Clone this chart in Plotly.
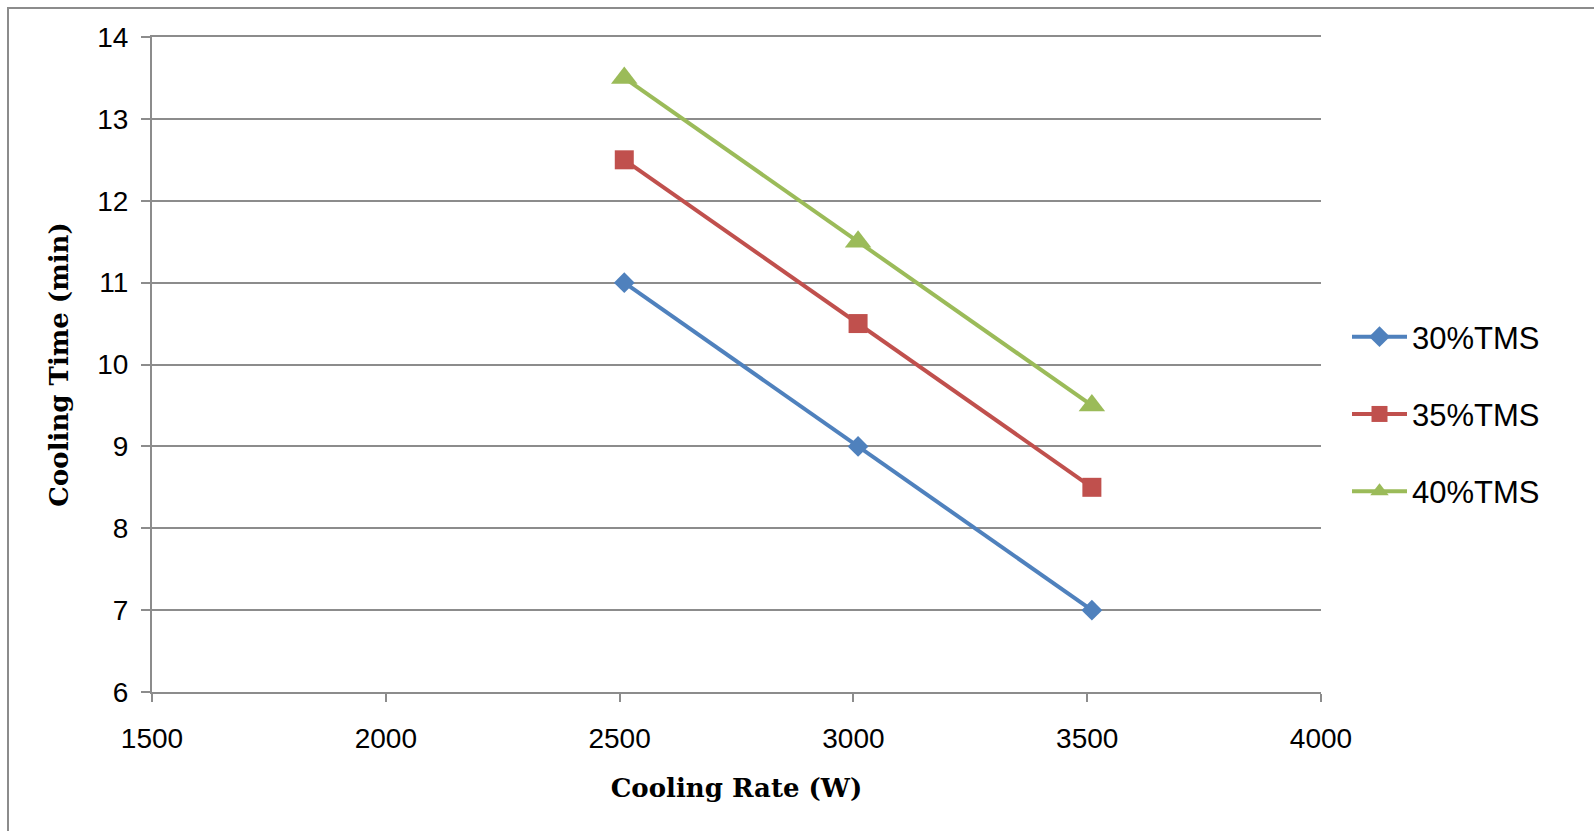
import plotly.graph_objects as go

cooling_rate = [2510, 3010, 3510]
series_names = ["30%TMS", "35%TMS", "40%TMS"]
tms30 = [11, 9, 7]
tms35 = [12.5, 10.5, 8.5]
tms40 = [13.5, 11.5, 9.5]
x_ticks = [1500, 2000, 2500, 3000, 3500, 4000]
y_ticks = [6, 7, 8, 9, 10, 11, 12, 13, 14]

W, H = 1594, 831
L, R, T, B = 152, 1321, 37, 692

colors = ["#4F81BD", "#C0504D", "#9BBB59"]
symbols = ["diamond", "square", "triangle-up"]
sizes = [16, 19, 23]
values = [tms30, tms35, tms40]

fig = go.Figure()
for i, (name, vals) in enumerate(zip(series_names, values)):
    fig.add_trace(go.Scatter(
        x=cooling_rate, y=vals, name=name, mode="lines+markers",
        line=dict(color=colors[i], width=4),
        marker=dict(symbol=symbols[i], size=sizes[i], color=colors[i]),
        legendgroup=name,
    ))

grid = "#8c8c8c"
fig.update_layout(
    width=W, height=H,
    margin=dict(l=L, r=W - R, t=T, b=H - B),
    paper_bgcolor="white", plot_bgcolor="white",
    font=dict(family="Liberation Sans, Arial", color="black"),
    showlegend=True,
    legend=dict(
        x=(1347 - L) / (R - L), xanchor="left",
        y=(B - 414) / (B - T), yanchor="middle",
        font=dict(size=31, family="Liberation Sans, Arial"),
        tracegroupgap=34, traceorder="grouped", itemwidth=55,
        bgcolor="rgba(0,0,0,0)",
    ),
    xaxis=dict(
        range=[1500, 4000], tickvals=x_ticks, showgrid=False,
        showline=True, linecolor=grid, linewidth=2, mirror=True,
        ticks="outside", ticklen=8, tickcolor=grid, tickwidth=2,
        tickfont=dict(size=28), ticklabelstandoff=12,
        zeroline=False,
        title=dict(text="<b>Cooling Rate (W)</b>",
                   font=dict(family="DejaVu Serif", size=26), standoff=26),
    ),
    yaxis=dict(
        range=[6, 14], tickvals=y_ticks, showgrid=True, gridcolor=grid, gridwidth=1.5,
        showline=True, linecolor=grid, linewidth=2,
        ticks="outside", ticklen=9, tickcolor=grid, tickwidth=2,
        tickfont=dict(size=28), ticklabelstandoff=7,
        zeroline=False,
        title=dict(text="<b>Cooling Time (min)</b>",
                   font=dict(family="DejaVu Serif", size=26), standoff=21),
    ),
)

fig.add_shape(type="rect", xref="paper", yref="paper",
              x0=(8 - L) / (R - L), x1=2.0,
              y0=-1.0, y1=(B - 8) / (B - T),
              line=dict(color=grid, width=2), fillcolor="rgba(0,0,0,0)", layer="below")

fig.write_html("out.html")
